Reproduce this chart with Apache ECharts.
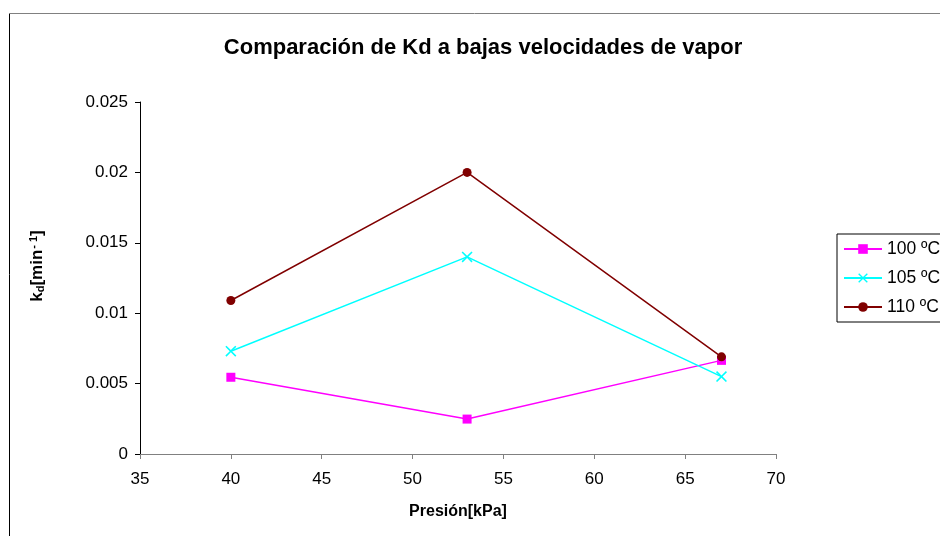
<!DOCTYPE html>
<html>
<head>
<meta charset="utf-8">
<script src="https://cdn.jsdelivr.net/npm/echarts@6/dist/echarts.min.js"></script>
<style>
  html, body { margin: 0; padding: 0; background: #fff; }
  #chart { width: 940px; height: 536px; }
</style>
</head>
<body>
<div id="chart"></div>
<script>
// Presión [kPa] at which Kd was measured
const presion = [40, 53, 67];
// Kd [min^-1] for each temperature
const kd100 = [0.00545, 0.00248, 0.00665];
const kd105 = [0.0073, 0.014, 0.0055];
const kd110 = [0.0109, 0.02, 0.0069];
const seriesNames = ['100 ºC', '105 ºC', '110 ºC'];
const xTicks = { min: 35, max: 70, interval: 5 };
const yTicks = { min: 0, max: 0.025, interval: 0.005 };

const pairs = ys => presion.map((x, i) => [x, ys[i]]);
const crossPath = 'path://M0,1L1,0L5,4L9,0L10,1L6,5L10,9L9,10L5,6L1,10L0,9L4,5Z';

const chart = echarts.init(document.getElementById('chart'), null, { renderer: 'canvas' });
const font = 'Arial, "Liberation Sans", sans-serif';

chart.setOption({
  animation: false,
  backgroundColor: '#fff',
  textStyle: { fontFamily: font },
  title: {
    text: 'Comparación de Kd a bajas velocidades de vapor',
    left: 478, top: 32, textAlign: 'center',
    textStyle: { fontFamily: font, fontSize: 22, fontWeight: 'bold', color: '#000' }
  },
  graphic: [
    { type: 'line', shape: { x1: 9.5, y1: 13, x2: 9.5, y2: 536 }, style: { stroke: '#000', lineWidth: 1 } },
    { type: 'line', shape: { x1: 9, y1: 13.5, x2: 940, y2: 13.5 }, style: { stroke: '#808080', lineWidth: 1 } }
  ],
  grid: { left: 140, right: 164, top: 102, bottom: 82, containLabel: false },
  legend: {
    orient: 'vertical',
    left: 837, top: 234,
    padding: [6, 40, 6, 6],
    itemWidth: 38, itemHeight: 12, itemGap: 11,
    borderColor: '#000', borderWidth: 1,
    textStyle: { fontFamily: font, fontSize: 17.5, color: '#000', lineHeight: 16 },
    data: seriesNames
  },
  xAxis: {
    type: 'value',
    min: xTicks.min, max: xTicks.max, interval: xTicks.interval,
    name: 'Presión[kPa]', nameLocation: 'middle', nameGap: 50,
    nameTextStyle: { fontFamily: font, fontSize: 16, fontWeight: 'bold', color: '#000' },
    axisLine: { lineStyle: { color: '#808080', width: 1 } },
    axisTick: { show: true, length: 5, lineStyle: { color: '#808080' } },
    axisLabel: { fontFamily: font, fontSize: 17, color: '#000', margin: 17 },
    splitLine: { show: false }
  },
  yAxis: {
    type: 'value',
    min: yTicks.min, max: yTicks.max, interval: yTicks.interval,
    name: 'k{sub|d}[min{sup|- 1}]', nameLocation: 'middle', nameGap: 94, nameRotate: 90,
    nameTextStyle: {
      fontFamily: font, fontSize: 17, fontWeight: 'bold', color: '#000',
      padding: [0, 0, 0, 24],
      rich: {
        sub: { fontFamily: font, fontSize: 11, fontWeight: 'bold', color: '#000', padding: [7, 0, 0, 0] },
        sup: { fontFamily: font, fontSize: 11, fontWeight: 'bold', color: '#000', padding: [0, 0, 7, 1] }
      }
    },
    axisLine: { show: true, lineStyle: { color: '#000', width: 1 } },
    axisTick: { show: true, length: 5, lineStyle: { color: '#000' } },
    axisLabel: {
      fontFamily: font, fontSize: 17, color: '#000', margin: 12,
      formatter: v => String(+v.toFixed(3))
    },
    splitLine: { show: false }
  },
  series: [
    {
      name: seriesNames[0], type: 'line', data: pairs(kd100),
      symbol: 'rect', symbolSize: 9,
      lineStyle: { color: '#FF00FF', width: 1.5 },
      itemStyle: { color: '#FF00FF' }
    },
    {
      name: seriesNames[1], type: 'line', data: pairs(kd105),
      symbol: crossPath, symbolSize: 11,
      lineStyle: { color: '#00FFFF', width: 1.5 },
      itemStyle: { color: '#00FFFF' }
    },
    {
      name: seriesNames[2], type: 'line', data: pairs(kd110),
      symbol: 'circle', symbolSize: 9,
      lineStyle: { color: '#800000', width: 1.5 },
      itemStyle: { color: '#800000' }
    }
  ]
});
</script>
</body>
</html>
